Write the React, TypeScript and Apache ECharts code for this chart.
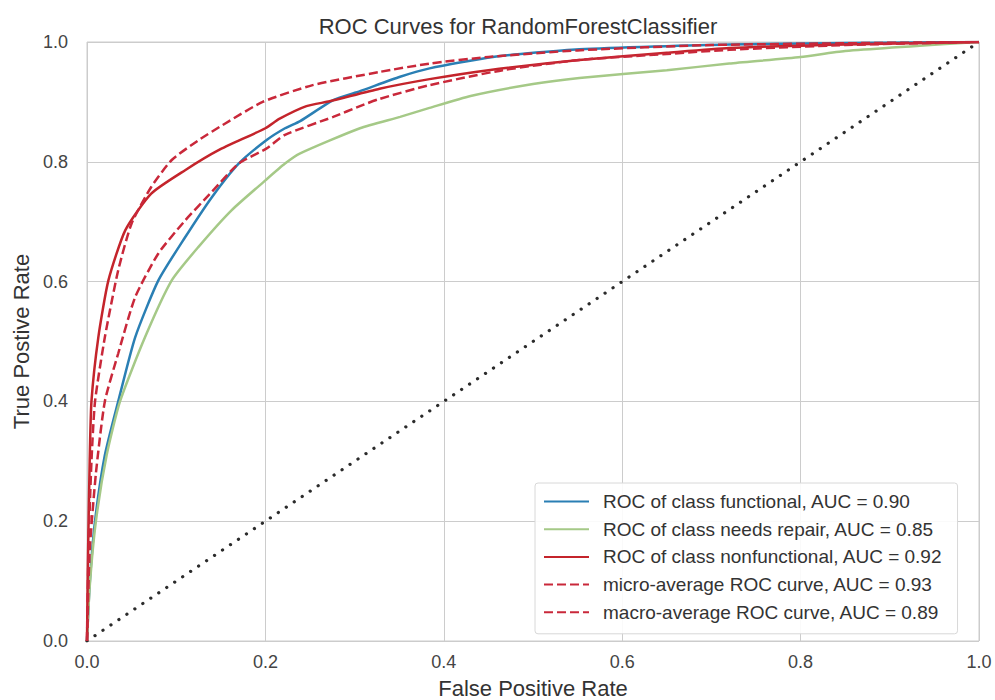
import React, { useEffect, useRef } from "react";
import * as echarts from "echarts";

const TITLE = "ROC Curves for RandomForestClassifier";
const X_NAME = "False Positive Rate";
const Y_NAME = "True Postive Rate";

const SERIES_NAMES = [
  "ROC of class functional, AUC = 0.90",
  "ROC of class needs repair, AUC = 0.85",
  "ROC of class nonfunctional, AUC = 0.92",
  "micro-average ROC curve, AUC = 0.93",
  "macro-average ROC curve, AUC = 0.89",
];

const functional: [number, number][] = [
  [0, 0], [0.003, 0.095], [0.009, 0.2], [0.02, 0.31], [0.035, 0.4], [0.054, 0.507],
  [0.08, 0.602], [0.11, 0.674], [0.14, 0.741], [0.17, 0.797], [0.201, 0.836],
  [0.222, 0.856], [0.239, 0.868], [0.276, 0.903], [0.306, 0.918], [0.351, 0.942],
  [0.384, 0.956], [0.455, 0.975], [0.552, 0.988], [0.72, 0.996], [1, 1],
];

const needsRepair: [number, number][] = [
  [0, 0], [0.003, 0.09], [0.01, 0.2], [0.022, 0.31], [0.037, 0.4], [0.065, 0.507],
  [0.095, 0.602], [0.125, 0.658], [0.162, 0.719], [0.2, 0.769], [0.222, 0.797],
  [0.239, 0.814], [0.306, 0.856], [0.351, 0.875], [0.384, 0.89], [0.43, 0.91],
  [0.5, 0.93], [0.552, 0.94], [0.65, 0.953], [0.72, 0.964], [0.8, 0.975],
  [0.85, 0.985], [1, 1],
];

const nonfunctional: [number, number][] = [
  [0, 0], [0.001, 0.13], [0.003, 0.3], [0.005, 0.4], [0.0127, 0.507], [0.024, 0.602],
  [0.043, 0.686], [0.072, 0.747], [0.11, 0.786], [0.147, 0.819], [0.2, 0.856],
  [0.216, 0.872], [0.246, 0.893], [0.272, 0.901], [0.328, 0.922], [0.384, 0.938],
  [0.45, 0.953], [0.552, 0.97], [0.65, 0.982], [0.72, 0.99], [0.85, 0.996], [1, 1],
];

const microAvg: [number, number][] = [
  [0, 0], [0.002, 0.17], [0.005, 0.3], [0.009, 0.4], [0.02, 0.507], [0.035, 0.619],
  [0.05, 0.697], [0.072, 0.758], [0.095, 0.803], [0.125, 0.836], [0.155, 0.864],
  [0.197, 0.9], [0.253, 0.928], [0.328, 0.95], [0.384, 0.964], [0.45, 0.975],
  [0.55, 0.986], [0.7, 0.995], [1, 1],
];

const macroAvg: [number, number][] = [
  [0, 0], [0.003, 0.15], [0.01, 0.28], [0.02, 0.4], [0.035, 0.48], [0.054, 0.574],
  [0.08, 0.647], [0.11, 0.702], [0.14, 0.75], [0.17, 0.797], [0.201, 0.822],
  [0.222, 0.845], [0.276, 0.875], [0.306, 0.893], [0.328, 0.905], [0.384, 0.928],
  [0.466, 0.953], [0.552, 0.97], [0.65, 0.98], [0.72, 0.987], [0.85, 0.995], [1, 1],
];

const diagonal: [number, number][] = [
  [0, 0], [1, 1],
];

const COLORS = ["#2a7fb4", "#a5c987", "#c4242b", "#c9283a", "#c9283a"];
const FONT = "Liberation Sans, Arial, Helvetica, sans-serif";

export default function App() {
  const ref = useRef<HTMLDivElement>(null);
  useEffect(() => {
    document.body.style.margin = "0";
    if (!ref.current) return;
    const chart = echarts.init(ref.current, undefined, { renderer: "svg" });
    const datasets = [functional, needsRepair, nonfunctional, microAvg, macroAvg];
    const series: any[] = datasets.map((d, i) => ({
      name: SERIES_NAMES[i],
      type: "line",
      data: d,
      showSymbol: false,
      symbol: "none",
      smooth: 0.2,
      color: COLORS[i],
      lineStyle: {
        color: COLORS[i],
        width: 2.5,
        type: i >= 3 ? [9, 4] : "solid",
      },
      z: 3 + (i >= 3 ? 1 : 0),
    }));
    series.push({
      name: "diagonal",
      type: "line",
      data: diagonal,
      symbol: "none",
      lineStyle: { color: "#2b2b2b", width: 3.2, type: [0.1, 9.5], cap: "round" },
      z: 2,
    });
    chart.setOption({
      animation: false,
      backgroundColor: "#ffffff",
      title: {
        text: TITLE,
        left: 513,
        top: 10,
        textAlign: "center",
        textStyle: { fontFamily: FONT, fontSize: 22, fontWeight: "normal", color: "#333" },
      },
      grid: {
        left: 87,
        right: 16,
        top: 42,
        bottom: 59,
        outerBoundsMode: "none",
        containLabel: false,
        show: true,
        borderColor: "#cccccc",
        borderWidth: 1,
        backgroundColor: "#ffffff",
      },
      legend: {
        data: SERIES_NAMES,
        orient: "vertical",
        left: 535,
        top: 483,
        padding: [9, 15, 12, 8],
        itemWidth: 45,
        itemHeight: 14,
        itemGap: 8.7,
        itemStyle: { opacity: 0 },
        backgroundColor: "rgba(255,255,255,0.9)",
        borderColor: "#d8d8d8",
        borderWidth: 1,
        borderRadius: 3,
        textStyle: {
          fontFamily: FONT,
          fontSize: 19,
          lineHeight: 19,
          color: "#333",
          padding: [0, 0, 0, 9],
        },
      },
      xAxis: {
        type: "value",
        min: 0,
        max: 1,
        interval: 0.2,
        name: X_NAME,
        nameLocation: "middle",
        nameGap: 36,
        nameTextStyle: { fontFamily: FONT, fontSize: 22, color: "#333" },
        axisLine: { show: false },
        axisTick: { show: false },
        axisLabel: {
          fontFamily: FONT,
          fontSize: 18,
          color: "#444",
          margin: 12,
          formatter: (v: number) => v.toFixed(1),
        },
        splitLine: { show: true, lineStyle: { color: "#cccccc", width: 1 } },
      },
      yAxis: {
        type: "value",
        min: 0,
        max: 1,
        interval: 0.2,
        name: Y_NAME,
        nameLocation: "middle",
        nameGap: 54,
        nameTextStyle: { fontFamily: FONT, fontSize: 22, color: "#333" },
        axisLine: { show: false },
        axisTick: { show: false },
        axisLabel: {
          fontFamily: FONT,
          fontSize: 18,
          color: "#444",
          margin: 19,
          formatter: (v: number) => v.toFixed(1),
        },
        splitLine: { show: true, lineStyle: { color: "#cccccc", width: 1 } },
      },
      series,
    });
    return () => chart.dispose();
  }, []);
  return <div ref={ref} style={{ width: 995, height: 700 }} />;
}
